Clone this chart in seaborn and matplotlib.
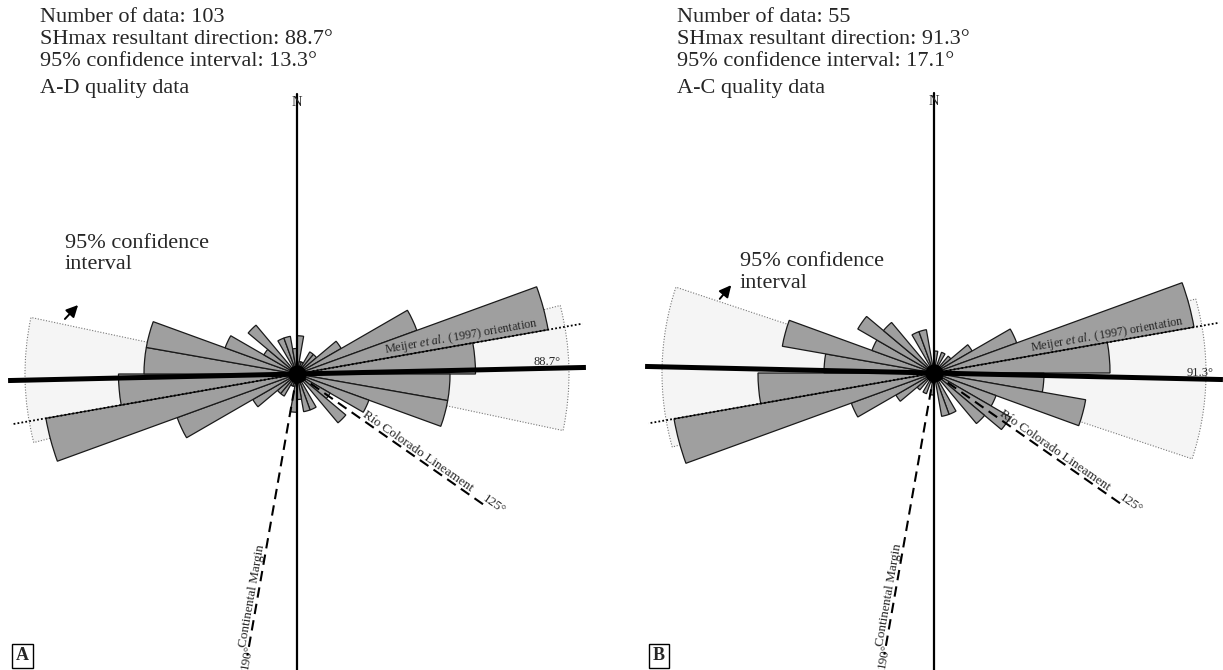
import numpy as np
import pandas as pd
import matplotlib
matplotlib.use("Agg")
import matplotlib.pyplot as plt
import seaborn as sns

# rose bins (10 deg, 0-180), axial data -> mirrored on the other side
bin_start = list(range(0, 180, 10))
counts_a = [3, 1, 1, 2, 2, 4, 10, 20, 14, 12, 12, 6, 3, 5, 0, 3, 3, 2]
counts_b = [1, 0, 1, 0, 1, 2, 4, 12, 8, 5, 7, 3, 4, 3, 0, 2, 2, 0]
counts = [counts_a, counts_b]

n_data = [103, 55]
shmax_dir = [88.7, 91.3]
conf95 = [13.3, 17.1]
quality = ["A-D quality data", "A-C quality data"]
letters = ["A", "B"]
meijer_az = 80
rio_colorado_az = 125
margin_az = 190

# layout (pixels)
W, H = 1223, 670
centers = [(297, 374), (934, 373)]
px_per_count = [12.75, 22.0]
text_x = [40, 677]
conf_text_xy = [(65, 243), (740, 262)]
arrows = [((63, 321), (80, 303)), ((718, 301), (733, 283))]
deg_label_r = [250, 266]
R_PX = 310

sns.set_style("white")
plt.rcParams["font.family"] = ["Liberation Serif", "DejaVu Serif"]
plt.rcParams["mathtext.fontset"] = "custom"
plt.rcParams["mathtext.rm"] = "Liberation Serif"
plt.rcParams["mathtext.it"] = "Liberation Serif:italic"

fig = plt.figure(figsize=(W / 100, H / 100), dpi=100)


def fpos(x, y):
    return x / W, 1 - y / H


def radial(ax, az, r0, r1, **kw):
    t = np.radians(az)
    ax.plot([t, t], [r0, r1], clip_on=False, **kw)


for k in range(2):
    cx, cy = centers[k]
    s = px_per_count[k]
    ax = fig.add_axes([(cx - R_PX) / W, (H - cy - R_PX) / H, 2 * R_PX / W, 2 * R_PX / H],
                      projection="polar")
    ax.set_theta_zero_location("N")
    ax.set_theta_direction(-1)

    # 95% confidence wedges
    for base in (0, 180):
        ax.bar(np.radians(shmax_dir[k] + base), 272 / s, width=np.radians(2 * conf95[k]),
               bottom=0, color="#f5f5f5", edgecolor="#777777", linewidth=0.8,
               linestyle=(0, (1, 1.5)), zorder=1)

    # rose
    theta = np.radians(np.array(bin_start + [b + 180 for b in bin_start]) + 5)
    df = pd.DataFrame({"theta": theta, "count": counts[k] + counts[k]})
    sns.barplot(data=df, x="theta", y="count", native_scale=True, width=1, orient="x",
                color="#9f9f9f", saturation=1, edgecolor="#1a1a1a", linewidth=0.9,
                errorbar=None, ax=ax, zorder=2)

    # reference lines
    radial(ax, 0, 0, 280 / s, color="black", lw=1.6, zorder=4)
    radial(ax, 180, 0, 300 / s, color="black", lw=1.6, zorder=4)
    for base in (0, 180):
        radial(ax, shmax_dir[k] + base, 0, 289 / s, color="black", lw=3.6,
               solid_capstyle="butt", zorder=5)
        radial(ax, meijer_az + base, 0, 290 / s, color="black", lw=1.3,
               linestyle=(0, (1, 1.2)), zorder=4)
    radial(ax, rio_colorado_az, 0, 228 / s, color="black", lw=1.5,
           linestyle=(0, (5, 3)), zorder=4)
    radial(ax, margin_az, 0, 286 / s, color="black", lw=1.5,
           linestyle=(0, (5, 3)), zorder=4)
    ax.plot(0, 0, "o", color="black", ms=12, zorder=6)

    # labels on the diagram
    ax.text(0, 272 / s, "N", ha="center", va="center", fontsize=10.5, zorder=7)
    ax.text(np.radians(shmax_dir[k]), deg_label_r[k] / s, f"{shmax_dir[k]}°",
            ha="center", va="bottom", fontsize=9)
    ax.text(np.radians(meijer_az), (90 if k == 0 else 100) / s,
            r"Meijer $\it{et\ al.}$ (1997) orientation", rotation=90 - meijer_az,
            rotation_mode="anchor", ha="left", va="bottom", fontsize=8.8)
    ax.text(np.radians(rio_colorado_az), 77 / s, "Río Colorado Lineament",
            rotation=90 - rio_colorado_az, rotation_mode="anchor", ha="left",
            va="bottom", fontsize=9.5)
    ax.text(np.radians(rio_colorado_az), 224 / s, "125°",
            rotation=90 - rio_colorado_az, rotation_mode="anchor", ha="left",
            va="bottom", fontsize=9.5)
    ax.text(np.radians(margin_az), 278 / s, "Continental Margin",
            rotation=270 - margin_az, rotation_mode="anchor", ha="left",
            va="bottom", fontsize=9.5)
    ax.text(np.radians(margin_az), 300 / s, "190°",
            rotation=270 - margin_az, rotation_mode="anchor", ha="left",
            va="center", fontsize=9.5)

    ax.set_rlim(0, R_PX / s)
    ax.set_axis_off()

    # header text
    x0 = text_x[k]
    lines = [f"Number of data: {n_data[k]}",
             f"SHmax resultant direction: {shmax_dir[k]}°",
             f"95% confidence interval: {conf95[k]}°"]
    for i, t in enumerate(lines):
        fig.text(*fpos(x0, 18 + 22 * i), t, fontsize=16, va="center", ha="left")
    fig.text(*fpos(x0, 89), quality[k], fontsize=16, va="center", ha="left")

    # confidence annotation
    (tx, ty), (hx, hy) = arrows[k]
    cx_t, cy_t = conf_text_xy[k]
    fig.text(*fpos(cx_t, cy_t), "95% confidence", fontsize=16, va="center", ha="left")
    fig.text(*fpos(cx_t, cy_t + 22), "interval", fontsize=16, va="center", ha="left")
    fig.add_artist(matplotlib.patches.FancyArrowPatch(
        fpos(tx, ty), fpos(hx, hy), transform=fig.transFigure,
        arrowstyle="-|>,head_length=7,head_width=3.5", color="black", lw=1.4))

    # panel letter
    fig.text(*fpos(x0 - 24, 656), letters[k], fontsize=13, fontweight="bold",
             va="center", ha="left",
             bbox=dict(boxstyle="square,pad=0.2", fc="white", ec="black", lw=1))

fig.savefig("out.png", dpi=100)
